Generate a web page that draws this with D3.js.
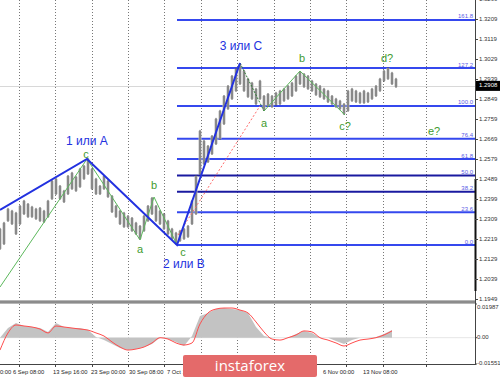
<!DOCTYPE html>
<html>
<head>
<meta charset="utf-8">
<script src="https://cdn.jsdelivr.net/npm/d3@7"></script>
<style>
body { margin: 0; background: #fff; }
svg { display: block; }
</style>
</head>
<body>
<svg class="svg"></svg>
<script>
// bar highs / lows (H4 bars, one every 4px)
const barHigh = [1.2269, 1.2296, 1.2359, 1.2350, 1.2341, 1.2372, 1.2395, 1.2381, 1.2368, 1.2359,
    1.2363, 1.2350, 1.2395, 1.2485, 1.2494, 1.2462, 1.2440, 1.2507, 1.2521, 1.2503,
    1.2539, 1.2552, 1.2584, 1.2539, 1.2494, 1.2462, 1.2507, 1.2485, 1.2417, 1.2372,
    1.2350, 1.2341, 1.2327, 1.2318, 1.2296, 1.2282, 1.2327, 1.2372, 1.2408, 1.2372,
    1.2350, 1.2336, 1.2305, 1.2269, 1.2251, 1.2260, 1.2269, 1.2282, 1.2395, 1.2507,
    1.2710, 1.2665, 1.2642, 1.2687, 1.2764, 1.2800, 1.2867, 1.2912, 1.2957, 1.2989,
    1.3011, 1.2980, 1.2944, 1.2926, 1.2899, 1.2935, 1.2867, 1.2876, 1.2867, 1.2881,
    1.2890, 1.2899, 1.2912, 1.2926, 1.2957, 1.2975, 1.2966, 1.2957, 1.2935, 1.2921,
    1.2912, 1.2899, 1.2890, 1.2867, 1.2854, 1.2845, 1.2831, 1.2890, 1.2899, 1.2890,
    1.2881, 1.2890, 1.2881, 1.2899, 1.2912, 1.2944, 1.2980, 1.2993, 1.2971, 1.2944];
const barLow = [1.2170, 1.2192, 1.2296, 1.2282, 1.2237, 1.2282, 1.2327, 1.2314, 1.2314, 1.2305,
    1.2296, 1.2291, 1.2314, 1.2395, 1.2417, 1.2395, 1.2381, 1.2417, 1.2440, 1.2431,
    1.2449, 1.2485, 1.2507, 1.2440, 1.2417, 1.2417, 1.2440, 1.2404, 1.2336, 1.2314,
    1.2282, 1.2269, 1.2269, 1.2251, 1.2237, 1.2215, 1.2251, 1.2296, 1.2327, 1.2296,
    1.2282, 1.2260, 1.2237, 1.2215, 1.2192, 1.2206, 1.2215, 1.2224, 1.2282, 1.2327,
    1.2507, 1.2552, 1.2561, 1.2597, 1.2642, 1.2665, 1.2732, 1.2800, 1.2845, 1.2881,
    1.2912, 1.2881, 1.2854, 1.2845, 1.2822, 1.2845, 1.2795, 1.2813, 1.2809, 1.2818,
    1.2822, 1.2836, 1.2845, 1.2858, 1.2881, 1.2912, 1.2899, 1.2890, 1.2881, 1.2863,
    1.2854, 1.2845, 1.2831, 1.2822, 1.2809, 1.2800, 1.2777, 1.2791, 1.2836, 1.2831,
    1.2827, 1.2827, 1.2831, 1.2845, 1.2858, 1.2881, 1.2926, 1.2935, 1.2912, 1.2899];

const lastPrice = 1.2908;

// price axis labels
const priceTicks = ["1.3299", "1.3209", "1.3119", "1.3029", "1.2939", "1.2849", "1.2759", "1.2669",
    "1.2579", "1.2489", "1.2399", "1.2309", "1.2219", "1.2129", "1.2039", "1.1949"];

// time axis (bar index where each label starts)
const timeLabels = ["30 Aug 00:00", "6 Sep 08:00", "13 Sep 16:00", "23 Sep 00:00", "30 Sep 08:00",
    "7 Oct 16:00", "6 Nov 00:00", "13 Nov 08:00"];
const timeIdx = [-5.75, 3.25, 13.25, 22.75, 32.25, 41.75, 80.75, 90.75];
const gridIdx = [4.75, 13.75, 23, 32, 41, 50.25, 59.25, 68.5, 77.5, 86.5, 95.75, 106.5];

// fibonacci grid
const fibLow = 1.2192, fibHigh = 1.2818, fibStart = 44.25;
const fibLevels = [0, 23.6, 38.2, 50.0, 61.8, 76.4, 100.0, 127.2, 161.8];
const fibLabels = ["0.0", "23.6", "38.2", "50.0", "61.8", "76.4", "100.0", "127.2", "161.8"];

// wave marking: [bar index, price]
const blueWave = [[0, 1.2350], [21.75, 1.2579], [44.25, 1.2192], [60, 1.3011]];
const greenWave1 = [[0, 1.2003], [21.75, 1.2579], [35, 1.2215], [38.5, 1.2408], [44.25, 1.2192]];
const greenDotted = [[60, 1.3011], [66, 1.2795]];
const greenWave2 = [[66, 1.2795], [75, 1.2975], [86.25, 1.2777]];
const redDotted = [[44.5, 1.2237], [65, 1.2818]];

const waveText = ["1 или A", "2 или B", "3 или C"];
const waveTextPos = [[21.75, 1.2656], [46, 1.2104], [60.25, 1.3083]];
const subText = ["c", "a", "b", "c", "a", "b", "c?", "d?", "e?"];
const subTextPos = [[21.5, 1.2597], [35, 1.2168], [38.5, 1.2457], [45.75, 1.2157], [66, 1.2737],
    [75.5, 1.3029], [86.25, 1.2723], [96.75, 1.3029], [108.5, 1.2700]];

// oscillator pane, one value every 2 bars
const osmaHist = [0.0000, 0.0057, 0.0087, 0.0069, 0.0063, 0.0057, 0.0034, 0.0087, 0.0063, 0.0057,
    0.0057, 0.0045, 0.0004, -0.0014, -0.0037, -0.0061, -0.0073, -0.0067, -0.0055, -0.0037,
    0.0000, -0.0008, -0.0025, -0.0049, 0.0010, 0.0128, 0.0146, 0.0169, 0.0175, 0.0169,
    0.0163, 0.0146, 0.0063, 0.0010, 0.0000, 0.0000, 0.0000, 0.0022, 0.0040, 0.0028,
    0.0000, 0.0000, -0.0019, -0.0037, -0.0014, 0.0000, 0.0000, 0.0004, 0.0022, 0.0045];
const osmaSignal = [-0.0073, 0.0028, 0.0075, 0.0069, 0.0063, 0.0051, 0.0028, 0.0069, 0.0063, 0.0057,
    0.0051, 0.0045, 0.0028, 0.0010, -0.0025, -0.0055, -0.0073, -0.0067, -0.0055, -0.0031,
    0.0000, -0.0008, -0.0031, -0.0043, -0.0031, 0.0081, 0.0146, 0.0169, 0.0175, 0.0175,
    0.0163, 0.0146, 0.0093, 0.0034, -0.0008, -0.0014, 0.0000, 0.0016, 0.0040, 0.0034,
    0.0000, -0.0014, -0.0031, -0.0049, -0.0031, -0.0014, -0.0008, 0.0000, 0.0016, 0.0040];
const osmaTicks = ["0.01987", "0.00", "-0.01551"];
const osmaTickVals = [0.01987, 0, -0.01551];


const W = 500, H = 379;
const plotRight = 475;
const mainBottom = 300, subTop = 304, subBottom = 364;

const svg = d3.select(".svg")
    .attr("width", W)
    .attr("height", H)
    .style("font-family", "'Liberation Sans', Arial, sans-serif");

const x = d3.scaleLinear().domain([0, 99]).range([0, 396]);
const y = d3.scaleLinear().domain([1.1949, 1.3209]).range([299, 19]);
const yOsc = d3.scaleLinear().domain([-0.01551, 0.01987]).range([subBottom, subTop]);

svg.append("clipPath").attr("id", "mainClip")
    .append("rect").attr("x", 0).attr("y", 0).attr("width", plotRight).attr("height", mainBottom);
svg.append("clipPath").attr("id", "subClip")
    .append("rect").attr("x", 0).attr("y", subTop).attr("width", plotRight).attr("height", subBottom - subTop);

const main = svg.append("g").attr("clip-path", "url(#mainClip)");
const sub = svg.append("g").attr("clip-path", "url(#subClip)");

// dotted vertical grid
[[main, 0, mainBottom], [sub, subTop, subBottom]].forEach(function (p) {
    p[0].selectAll(".grid")
        .data(gridIdx)
        .enter()
        .append("line")
        .attr("x1", d => Math.round(x(d)) + 0.5)
        .attr("x2", d => Math.round(x(d)) + 0.5)
        .attr("y1", p[1])
        .attr("y2", p[2])
        .style("stroke", "#777")
        .style("stroke-dasharray", "1,2");
});

// current price line
main.append("line")
    .attr("x1", 0).attr("x2", plotRight)
    .attr("y1", Math.round(y(lastPrice)) + 0.5).attr("y2", Math.round(y(lastPrice)) + 0.5)
    .style("stroke", "#d8d8d8");

// fibo lines
main.selectAll(".fib")
    .data(fibLevels)
    .enter()
    .append("line")
    .attr("x1", x(fibStart))
    .attr("x2", plotRight)
    .attr("y1", d => y(fibLow + (fibHigh - fibLow) * d / 100))
    .attr("y2", d => y(fibLow + (fibHigh - fibLow) * d / 100))
    .style("stroke", d => (d === 50 || d === 38.2) ? "#1a1aa0" : "#3548ee")
    .style("stroke-width", 2);

main.selectAll(".fibLabel")
    .data(fibLevels)
    .enter()
    .append("text")
    .text((d, i) => fibLabels[i])
    .attr("x", plotRight - 2)
    .attr("y", d => y(fibLow + (fibHigh - fibLow) * d / 100) - 1.5)
    .attr("text-anchor", "end")
    .attr("font-size", 6)
    .attr("fill", "#5a5ae6");

// price bars
const bars = main.selectAll(".bar")
    .data(barHigh)
    .enter()
    .append("g");
bars.append("rect")
    .attr("x", (d, i) => x(i) - 1.5)
    .attr("width", 3)
    .attr("y", d => y(d) + 1)
    .attr("height", (d, i) => Math.max(0, y(barLow[i]) - y(d) - 2))
    .attr("fill", "#bdbdbd");
bars.append("line")
    .attr("x1", (d, i) => x(i))
    .attr("x2", (d, i) => x(i))
    .attr("y1", d => y(d))
    .attr("y2", (d, i) => y(barLow[i]))
    .style("stroke", "#555")
    .style("stroke-width", 1);

const wave = d3.line().x(d => x(d[0])).y(d => y(d[1]));

main.append("path").datum(redDotted).attr("d", wave)
    .attr("fill", "none").style("stroke", "#ff6b6b").style("stroke-dasharray", "2,2");
main.append("path").datum(greenWave1).attr("d", wave)
    .attr("fill", "none").style("stroke", "#5cb85c");
main.append("path").datum(greenWave2).attr("d", wave)
    .attr("fill", "none").style("stroke", "#5cb85c");
main.append("path").datum(greenDotted).attr("d", wave)
    .attr("fill", "none").style("stroke", "#2e7d32").style("stroke-dasharray", "2,1.5");
main.append("path").datum(blueWave).attr("d", wave)
    .attr("fill", "none").style("stroke", "#2231e0").style("stroke-width", 2);

svg.selectAll(".waveText")
    .data(waveText)
    .enter()
    .append("text")
    .text(d => d)
    .attr("x", (d, i) => x(waveTextPos[i][0]))
    .attr("y", (d, i) => y(waveTextPos[i][1]))
    .attr("text-anchor", "middle")
    .attr("dominant-baseline", "middle")
    .attr("font-size", 12)
    .attr("fill", "#2231e0");

svg.selectAll(".subText")
    .data(subText)
    .enter()
    .append("text")
    .text(d => d)
    .attr("x", (d, i) => x(subTextPos[i][0]))
    .attr("y", (d, i) => y(subTextPos[i][1]))
    .attr("text-anchor", "middle")
    .attr("dominant-baseline", "middle")
    .attr("font-size", 11)
    .attr("fill", "#3f9b2f");

// oscillator pane
const oscX = (d, i) => x(i * 2);
sub.append("line")
    .attr("x1", 0).attr("x2", plotRight)
    .attr("y1", yOsc(0)).attr("y2", yOsc(0))
    .style("stroke", "#e6e6e6");
sub.append("path")
    .datum(osmaHist)
    .attr("d", d3.area().x(oscX).y0(yOsc(0)).y1(d => yOsc(d)))
    .attr("fill", "#c3c3c3");
sub.append("path")
    .datum(osmaSignal)
    .attr("d", d3.line().x(oscX).y(d => yOsc(d)).curve(d3.curveMonotoneX))
    .attr("fill", "none")
    .style("stroke", "#ff4d4d")
    .style("stroke-width", 1);

// pane separator
svg.append("rect")
    .attr("x", 0).attr("y", mainBottom + 0.5).attr("width", plotRight + 1).attr("height", 3)
    .attr("fill", "#6e6e6e");
svg.append("rect")
    .attr("x", 0).attr("y", mainBottom + 1.5).attr("width", plotRight + 1).attr("height", 1)
    .attr("fill", "#aaa");

// right price axis
svg.append("line")
    .attr("x1", plotRight + 0.5).attr("x2", plotRight + 0.5)
    .attr("y1", 0).attr("y2", subBottom + 0.5)
    .style("stroke", "#444");
svg.append("line")
    .attr("x1", plotRight + 0.5).attr("x2", plotRight + 0.5)
    .attr("y1", y(1.2489)).attr("y2", y(1.1985))
    .style("stroke", "#111").style("stroke-width", 2);

svg.selectAll(".pTick")
    .data(priceTicks)
    .enter()
    .append("line")
    .attr("x1", plotRight)
    .attr("x2", plotRight + 3)
    .attr("y1", d => Math.round(y(+d)) + 0.5)
    .attr("y2", d => Math.round(y(+d)) + 0.5)
    .style("stroke", "#444");

svg.selectAll(".pLabel")
    .data(priceTicks)
    .enter()
    .append("text")
    .text(d => d)
    .attr("x", plotRight + 4)
    .attr("y", d => y(+d))
    .attr("dominant-baseline", "middle")
    .attr("font-size", 6)
    .attr("fill", "#333");

svg.append("rect")
    .attr("x", plotRight + 1).attr("y", y(lastPrice) - 5)
    .attr("width", W - plotRight - 1).attr("height", 10)
    .attr("fill", "#000");
svg.append("text")
    .text(lastPrice.toFixed(4))
    .attr("x", plotRight + 4)
    .attr("y", y(lastPrice))
    .attr("dominant-baseline", "middle")
    .attr("font-size", 6)
    .attr("fill", "#fff");

svg.selectAll(".oLabel")
    .data(osmaTicks)
    .enter()
    .append("text")
    .text(d => d)
    .attr("x", plotRight + 2)
    .attr("y", (d, i) => Math.min(Math.max(yOsc(osmaTickVals[i]), subTop + 3), subBottom - 1))
    .attr("dominant-baseline", "middle")
    .attr("font-size", 6)
    .attr("fill", "#333");
svg.selectAll(".oTick")
    .data(osmaTickVals)
    .enter()
    .append("line")
    .attr("x1", plotRight)
    .attr("x2", plotRight + 2)
    .attr("y1", d => yOsc(d))
    .attr("y2", d => yOsc(d))
    .style("stroke", "#444");

// bottom time axis
svg.append("line")
    .attr("x1", 0).attr("x2", plotRight + 1)
    .attr("y1", subBottom + 0.5).attr("y2", subBottom + 0.5)
    .style("stroke", "#444");

svg.selectAll(".tTick")
    .data(gridIdx)
    .enter()
    .append("line")
    .attr("x1", d => Math.round(x(d)) + 0.5)
    .attr("x2", d => Math.round(x(d)) + 0.5)
    .attr("y1", subBottom)
    .attr("y2", subBottom + 3)
    .style("stroke", "#444");

svg.selectAll(".tLabel")
    .data(timeLabels)
    .enter()
    .append("text")
    .text(d => d)
    .attr("x", (d, i) => x(timeIdx[i]))
    .attr("y", 372)
    .attr("dominant-baseline", "middle")
    .attr("font-size", 5.8)
    .attr("fill", "#222");

// logo
svg.append("rect")
    .attr("x", 183).attr("y", 355).attr("width", 134).attr("height", 22)
    .attr("rx", 2)
    .attr("fill", "#e46a6a");
svg.append("text")
    .text("instaforex")
    .attr("x", 250)
    .attr("y", 366.5)
    .attr("text-anchor", "middle")
    .attr("dominant-baseline", "middle")
    .attr("font-family", "'Open Sans', sans-serif")
    .attr("font-size", 15)
    .attr("fill", "#fff");
</script>
</body>
</html>
